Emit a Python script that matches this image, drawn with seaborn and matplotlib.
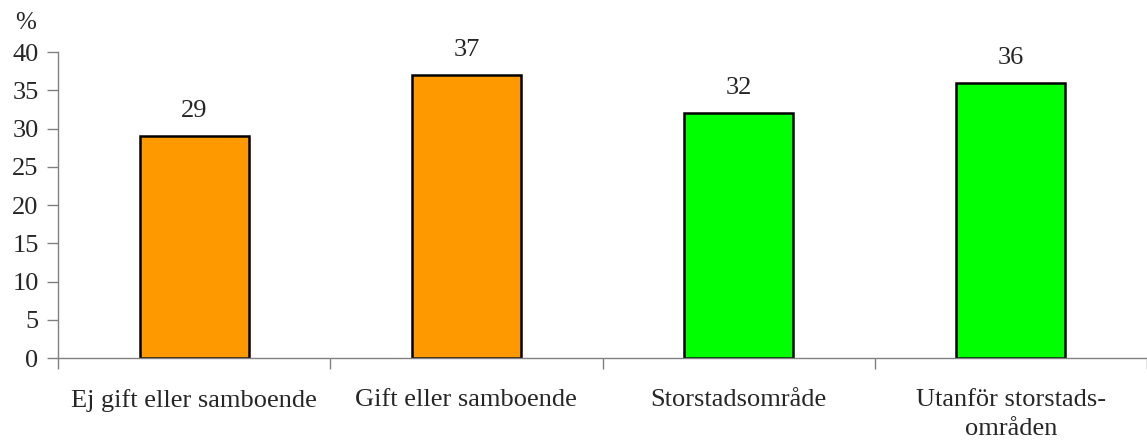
import numpy as np
import pandas as pd
import matplotlib
matplotlib.use("Agg")
import matplotlib.pyplot as plt
import seaborn as sns

# Data
categories = ["Ej gift eller samboende", "Gift eller samboende",
              "Storstadsområde", "Utanför storstads-\nområden"]
values = [29, 37, 32, 36]
colors = ["#FF9900", "#FF9900", "#00FF00", "#00FF00"]

df = pd.DataFrame({"cat": categories, "val": values})

sns.set_style("white")
plt.rcParams['font.family'] = ['Liberation Serif', 'DejaVu Serif']

fig = plt.figure(figsize=(11.47, 4.41), dpi=100)
ax = fig.add_axes([0.0506, 0.188, 0.9494, 0.694])

sns.barplot(data=df, x="cat", y="val", hue="cat", palette=colors, legend=False,
            width=0.4, edgecolor="black", linewidth=1.8, saturation=1, ax=ax)

for i, v in enumerate(values):
    ax.annotate(str(v), (i, v), xytext=(0, 10), textcoords="offset points",
                ha="center", va="bottom", fontsize=19)

ax.set_xlim(-0.5, 3.5)
ax.set_ylim(0, 40)
ax.set_yticks(np.arange(0, 41, 5))
ax.tick_params(axis="y", labelsize=19, length=8, width=1, color="#808080",
               direction="out", left=True, pad=6)
ax.set_xticks(range(len(categories)))
ax.set_xticklabels(categories, fontsize=19, linespacing=1.45)
ax.tick_params(axis="x", which="major", length=0, pad=22)
ax.set_xticks(np.arange(-0.5, 4, 1), minor=True)
ax.tick_params(axis="x", which="minor", length=8, width=1, color="#808080",
               direction="out", bottom=True)
ax.set_xlabel("")
ax.set_ylabel("")

for s in ["top", "right"]:
    ax.spines[s].set_visible(False)
for s in ["left", "bottom"]:
    ax.spines[s].set_color("#808080")
    ax.spines[s].set_linewidth(1)

fig.text(0.022, 0.922, "%", fontsize=18, ha="center", va="bottom")

fig.savefig("out.png", dpi=100)
